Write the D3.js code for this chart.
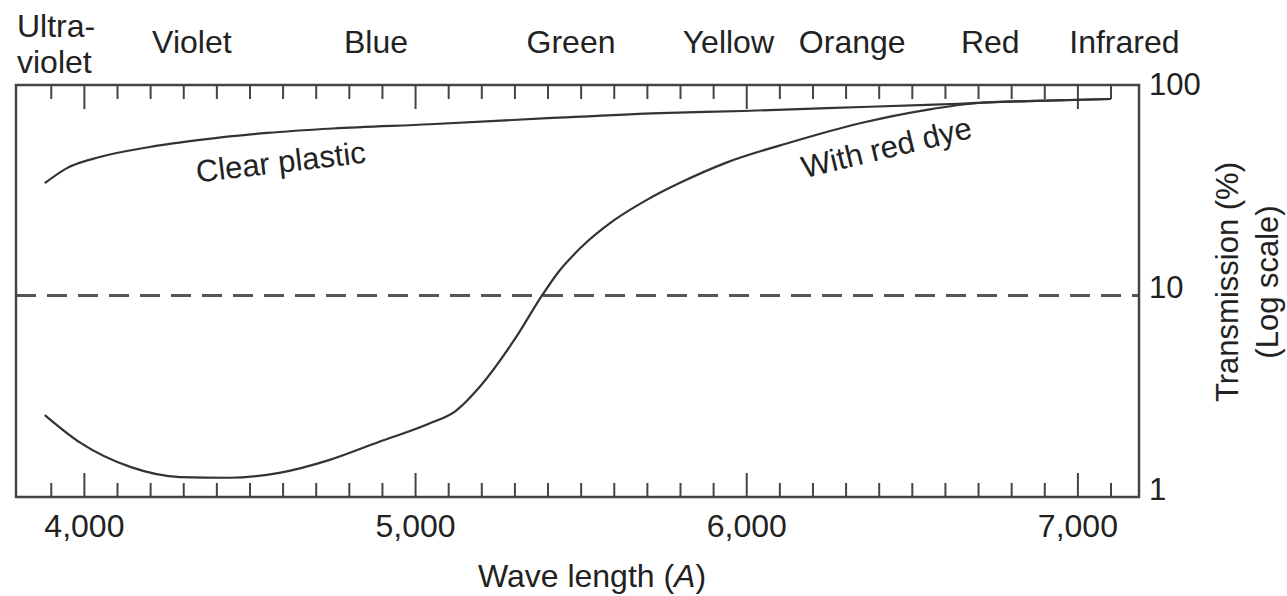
<!DOCTYPE html>
<html>
<head>
<meta charset="utf-8">
<script src="https://cdn.jsdelivr.net/npm/d3@7"></script>
<style>
    body { margin: 0; background: #fff; }
    svg text { font-family: "Liberation Sans", Arial, sans-serif; fill: #222; }
</style>
</head>
<body>
<svg id="chart" width="1287" height="596"></svg>
<script>
// Spectrum band names along the top, placed at a wavelength (Angstrom)
const bandNames = ['Violet', 'Blue', 'Green', 'Yellow', 'Orange', 'Red', 'Infrared'];
const bandWaves = [4326, 4882, 5471, 5946, 6320, 6737, 7142];

// Curve readings: wavelength (A) and transmission (%)
const clearWaves = [3882, 3949, 4048, 4199, 4350, 4553, 4752, 5045, 5400, 5740, 5990, 6244, 6546, 6697, 6848, 7100];
const clearValues = [33.4, 39.5, 44.7, 50, 54.1, 58.5, 61.5, 64.5, 69, 73.1, 74.8, 77.3, 80, 81.8, 83.6, 85.5];

const dyeWaves = [3882, 3990, 4140, 4290, 4440, 4590, 4740, 4890, 5045, 5120, 5200, 5300, 5385, 5430, 5500, 5600, 5700, 5800, 5940, 6140, 6340, 6550, 6700, 6850, 7100];
const dyeValues = [2.5, 1.83, 1.4, 1.25, 1.24, 1.31, 1.51, 1.85, 2.28, 2.6, 3.5, 5.8, 9.6, 12.2, 16.2, 22, 27.7, 33.5, 42, 53, 65, 76, 81.8, 83.6, 85.5];

const thresholdValue = 9.5;

const xMajorTicks = [4000, 5000, 6000, 7000];
const xMinorTicks = d3.range(3900, 7101, 100);
const yTicks = [1, 10, 100];

const svg = d3.select('#chart');
const plotLeft = 16, plotRight = 1139, plotTop = 85, plotBottom = 497;

const x = d3.scaleLinear().domain([3795, 7186]).range([plotLeft, plotRight]);
const y = d3.scaleLog().domain([1, 100]).range([plotBottom, plotTop]);

// dashed reference line
svg.append('line')
    .attr('x1', plotLeft).attr('x2', plotRight)
    .attr('y1', y(thresholdValue)).attr('y2', y(thresholdValue))
    .attr('stroke', '#555')
    .attr('stroke-width', 3)
    .attr('stroke-dasharray', '20,11');

// frame
svg.append('rect')
    .attr('x', plotLeft).attr('y', plotTop)
    .attr('width', plotRight - plotLeft).attr('height', plotBottom - plotTop)
    .attr('fill', 'none')
    .attr('stroke', '#444')
    .attr('stroke-width', 2.5);

// top and bottom ticks, pointing inward
const isMajor = d => xMajorTicks.includes(d);

const topAxis = svg.append('g')
    .attr('transform', `translate(0,${plotTop})`)
    .call(d3.axisTop(x).tickValues(xMinorTicks).tickSize(-14).tickFormat(''));

const bottomAxis = svg.append('g')
    .attr('transform', `translate(0,${plotBottom})`)
    .call(d3.axisBottom(x).tickValues(xMinorTicks).tickSize(-14).tickPadding(17)
        .tickFormat(d => isMajor(d) ? d3.format(',')(d) : ''));

[topAxis, bottomAxis].forEach(ax => {
    ax.select('.domain').remove();
    ax.selectAll('.tick line')
        .attr('stroke', '#444')
        .attr('stroke-width', 2);
});
topAxis.selectAll('.tick line').attr('y2', d => isMajor(d) ? 24 : 14);
bottomAxis.selectAll('.tick line').attr('y2', d => isMajor(d) ? -24 : -14);
bottomAxis.selectAll('.tick text')
    .style('font-size', '32px')
    .attr('fill', '#222');

// right axis labels
const yAxis = svg.append('g')
    .attr('transform', `translate(${plotRight},0)`)
    .call(d3.axisRight(y).tickValues(yTicks).tickSize(0).tickPadding(10).tickFormat(d3.format('d')));
yAxis.select('.domain').remove();
yAxis.selectAll('.tick text')
    .style('font-size', '31px')
    .attr('fill', '#222')
    .attr('y', d => d === 1 ? -7 : (d === 10 ? -3 : 0));

// curves
const line = d3.line()
    .x(d => x(d[0]))
    .y(d => y(d[1]))
    .curve(d3.curveMonotoneX);

[[clearWaves, clearValues], [dyeWaves, dyeValues]].forEach(([ws, vs]) => {
    svg.append('path')
        .datum(ws.map((w, i) => [w, vs[i]]))
        .attr('fill', 'none')
        .attr('stroke', '#333')
        .attr('stroke-width', 2.2)
        .attr('d', line);
});

// curve labels
svg.append('text')
    .attr('transform', `translate(${x(4598)},${y(37.6)}) rotate(-6.7)`)
    .attr('text-anchor', 'middle')
    .style('font-size', '31px')
    .text('Clear plastic');

svg.append('text')
    .attr('transform', `translate(${x(6431)},${y(44.3)}) rotate(-13.6)`)
    .attr('text-anchor', 'middle')
    .style('font-size', '31px')
    .text('With red dye');

// band names
const ultra = svg.append('text')
    .attr('x', x(3798))
    .style('font-size', '32px');
ultra.append('tspan').attr('x', x(3798)).attr('y', 37).text('Ultra-');
ultra.append('tspan').attr('x', x(3798)).attr('y', 73).text('violet');

svg.selectAll('.band')
    .data(bandNames)
    .enter().append('text')
    .attr('class', 'band')
    .attr('x', (d, i) => x(bandWaves[i]))
    .attr('y', 53)
    .attr('text-anchor', 'middle')
    .style('font-size', '32px')
    .text(d => d);

// axis titles
const xTitle = svg.append('text')
    .attr('x', 592)
    .attr('y', 587)
    .attr('text-anchor', 'middle')
    .style('font-size', '32px');
xTitle.append('tspan').text('Wave length (');
xTitle.append('tspan').style('font-style', 'italic').text('A');
xTitle.append('tspan').text(')');

svg.append('text')
    .attr('transform', 'translate(1238,282) rotate(-90)')
    .attr('text-anchor', 'middle')
    .style('font-size', '31px')
    .text('Transmission (%)');

svg.append('text')
    .attr('transform', 'translate(1278,282) rotate(-90)')
    .attr('text-anchor', 'middle')
    .style('font-size', '31px')
    .text('(Log scale)');
</script>
</body>
</html>
